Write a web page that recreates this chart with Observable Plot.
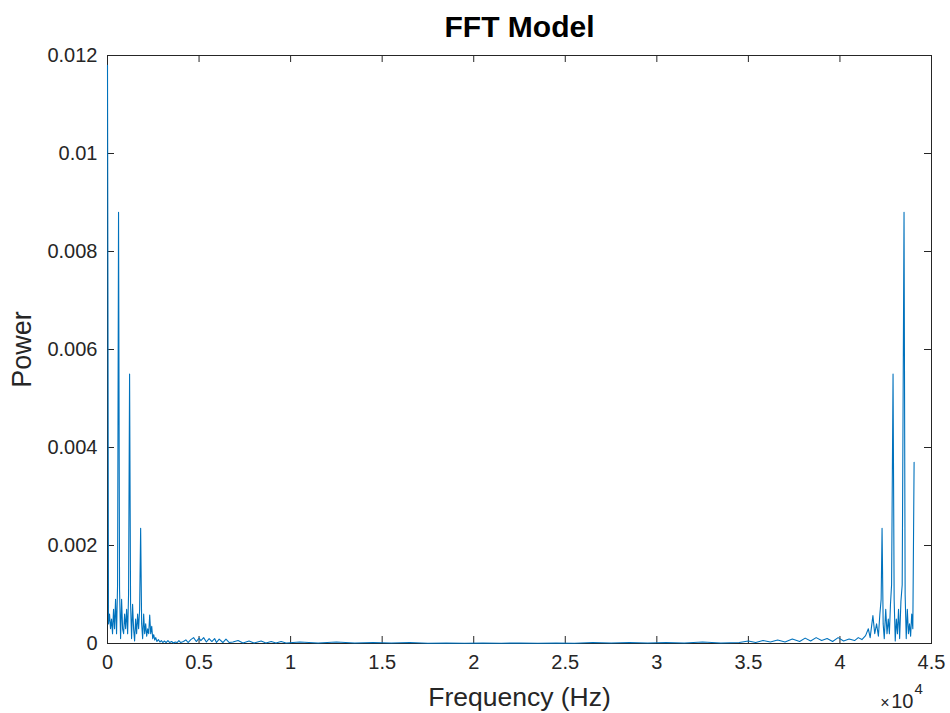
<!DOCTYPE html>
<html><head><meta charset="utf-8">
<script src="https://cdn.jsdelivr.net/npm/d3@7"></script>
<script src="https://cdn.jsdelivr.net/npm/@observablehq/plot@0.6"></script>
<style>body{margin:0;background:#fff;}</style>
</head><body><div id="chart"></div>
<script>
// Low-frequency part of the spectrum (Hz, power)
const lowFreq = [0,27,55,110,165,220,275,330,385,440,495,550,603,658,715,770,825,880,935,990,1045,1100,1150,1206,1260,1315,1370,1425,1480,1535,1590,1645,1700,1755,1810,1865,1920,1975,2030,2085,2140,2195,2250,2305,2360,2415,2470,2525,2580,2635,2700,2780,2860,2940,3020,3100,3200,3300,3400,3500,3600,3700,3800,3900,4000,4150,4280,4400,4550,4700,4850,5000,5100,5250,5400,5550,5700,5850,5950,6100,6300,6470,6650,6850,7130,7400,7730,8000,8390,8650,8940,9200,9480,9750];
const lowPower = [0.0118,0.0064,0.0004,0.0006,0.0003,0.0005,0.0002,0.0007,0.0003,0.0009,0.0002,0.0012,0.0088,0.0011,0.0001,0.0009,0.0003,0.0002,0.0006,0.0003,0.0007,0.0002,0.0010,0.0055,0.0008,0.0001,0.0008,0.0003,0.00005,0.0005,0.0002,0.0006,0.0003,0.0007,0.00235,0.0004,0.0001,0.0006,0.0002,0.0004,0.00015,0.0003,0.0002,0.00058,0.0002,0.00035,0.0001,0.00018,0.00007,0.00012,0.00004,0.00008,0.00003,0.00006,0.00002,0.00005,0.00002,0.00006,0.00002,0.00004,0.00001,0.00003,0.00002,0.00006,0.00002,0.00004,0.000075,0.00002,0.00008,0.00012,0.00004,0.00011,0.00006,0.00012,0.00003,0.0001,0.00004,0.0001,0.00002,0.00009,0.00002,0.00009,0.00002,0.00003,0.00006,0.00001,0.00005,0.00001,0.00005,0.00001,0.00004,0.00001,0.00004,0.00001];
// Flat middle part
const midFreq = [10500,11500,12500,13500,14500,15500,16500,17500,18500,19500,20500,21500,22500,23500,24500,25500,26500,27500,28500,29500,30500,31500,32500,33500];
const midPower = [0.00003,0.00001,0.00003,0.00001,0.00002,0.00001,0.00002,0.000005,0.00001,0.000005,0.00001,0.000005,0.00001,0.000005,0.00001,0.000005,0.00002,0.00001,0.00002,0.00001,0.00002,0.00001,0.00003,0.00001];
// High-frequency (mirrored) part
const highFreq = [34500,35000,35400,35800,36200,36600,37000,37400,37800,38100,38400,38700,39000,39300,39600,39900,40200,40500,40800,41000,41200,41400,41550,41650,41800,41900,42000,42100,42180,42250,42300,42360,42420,42500,42570,42640,42700,42760,42820,42900,42960,43020,43080,43140,43200,43260,43330,43400,43500,43560,43620,43680,43740,43800,43860,43920,43980,44050];
const highPower = [0.00002,0.00005,0.00002,0.00006,0.00003,0.00007,0.00003,0.00009,0.00004,0.00011,0.00005,0.00012,0.00006,0.0001,0.00004,0.00012,0.00005,0.00009,0.00006,0.00012,0.00008,0.00016,0.0003,0.00012,0.00057,0.0002,0.0004,0.00015,0.0006,0.0009,0.00235,0.0004,0.0001,0.0007,0.0002,0.0005,0.0002,0.0008,0.0012,0.0055,0.0009,0.00005,0.0005,0.0002,0.0007,0.0001,0.00086,0.0012,0.0088,0.0010,0.0001,0.0007,0.0002,0.0004,0.00015,0.0006,0.0003,0.0037];

const xTicks = [0,5000,10000,15000,20000,25000,30000,35000,40000,45000];
const yTicks = [0,0.002,0.004,0.006,0.008,0.01,0.012];

const data = [
  ...lowFreq.map((f,i)=>({f, p: lowPower[i]})),
  ...midFreq.map((f,i)=>({f, p: midPower[i]})),
  ...highFreq.map((f,i)=>({f, p: highPower[i]}))
];

const ink = "#262626";
const font = "'Liberation Sans', Arial, Helvetica, sans-serif";
const frameH = 713 - 55 - 70;
const frameW = 950 - 107 - 19;

const chart = Plot.plot({
  width: 950, height: 713,
  marginLeft: 107, marginRight: 19, marginTop: 55, marginBottom: 70,
  style: {fontFamily: font, fontSize: "20px", color: ink, background: "#fff"},
  x: {domain: [0, 45000]},
  y: {domain: [0, 0.012]},
  marks: [
    Plot.frame({stroke: ink, strokeWidth: 1}),
    Plot.tickX(xTicks, {x: d => d, stroke: ink, insetTop: frameH - 7}),
    Plot.tickX(xTicks, {x: d => d, stroke: ink, insetBottom: frameH - 7}),
    Plot.tickY(yTicks, {y: d => d, stroke: ink, insetRight: frameW - 7}),
    Plot.tickY(yTicks, {y: d => d, stroke: ink, insetLeft: frameW - 7}),
    Plot.line(data, {x: "f", y: "p", stroke: "#0072BD", strokeWidth: 1.1}),
    Plot.axisX(xTicks, {anchor: "bottom", tickSize: 0, tickPadding: 11, tickFormat: d => String(d / 1e4), label: null, fill: ink}),
    Plot.axisY(yTicks, {anchor: "left", tickSize: 0, tickPadding: 10, tickFormat: d => String(+d.toFixed(3)), label: null, fill: ink}),
    Plot.text(["FFT Model"], {frameAnchor: "top", lineAnchor: "middle", dy: -28, fontWeight: "bold", fontSize: 30, fill: "#000"}),
    Plot.text(["Frequency (Hz)"], {frameAnchor: "bottom", lineAnchor: "middle", dy: 54, fontSize: 26.5, fill: ink}),
    Plot.text(["Power"], {frameAnchor: "left", textAnchor: "middle", lineAnchor: "middle", dx: -85, rotate: -90, fontSize: 27, fill: ink}),
    Plot.text(["×"], {frameAnchor: "bottom-right", lineAnchor: "middle", textAnchor: "end", dy: 59, dx: -42, fontSize: 16, fill: ink}),
    Plot.text(["10"], {frameAnchor: "bottom-right", lineAnchor: "middle", textAnchor: "end", dy: 58, dx: -18, fontSize: 20, fill: ink}),
    Plot.text(["4"], {frameAnchor: "bottom-right", lineAnchor: "middle", textAnchor: "start", dy: 46, dx: -17, fontSize: 15, fill: ink})
  ]
});
document.getElementById("chart").appendChild(chart);
</script>
</body></html>
